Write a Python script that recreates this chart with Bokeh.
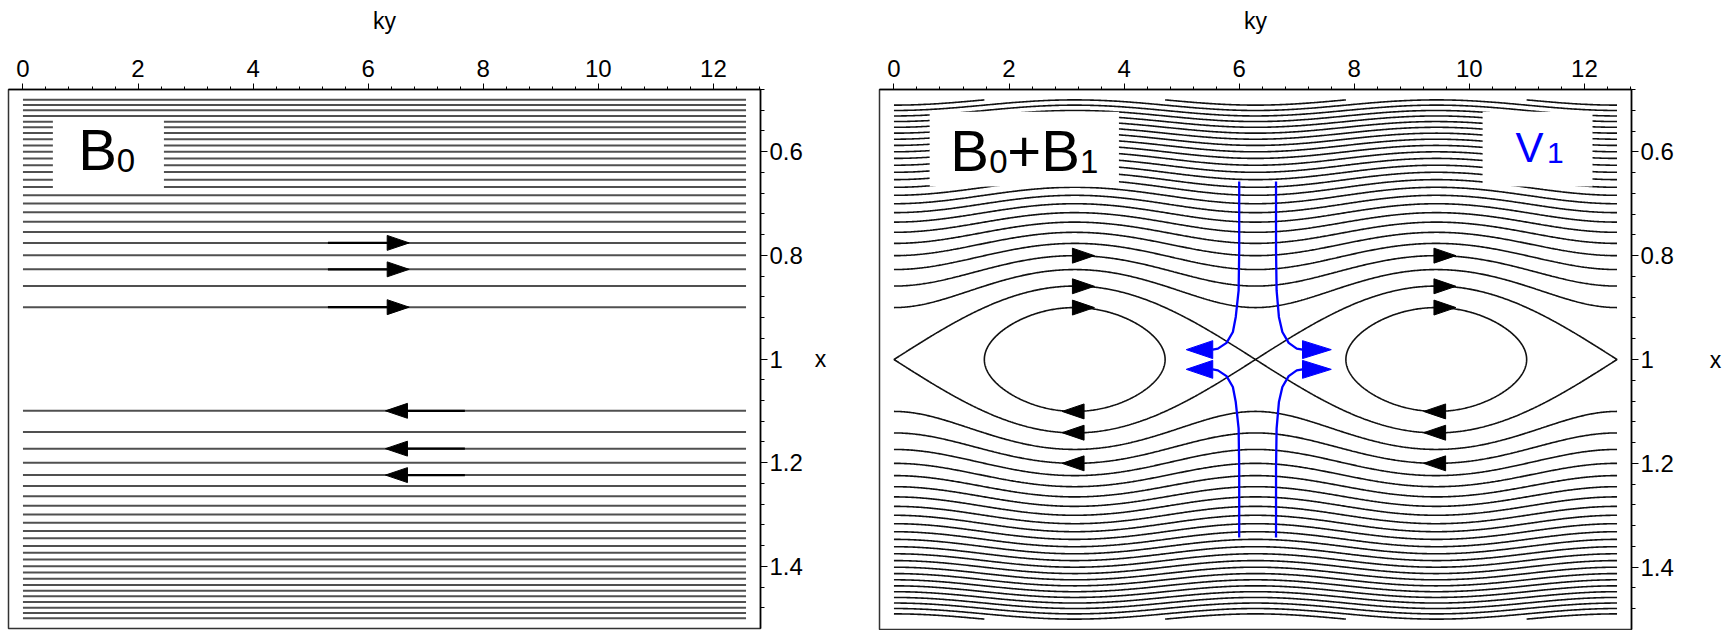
import numpy as np
from bokeh.plotting import figure
from bokeh.layouts import row
from bokeh.models import Range1d, FixedTicker, CustomJSTickFormatter
from bokeh.core.properties import value
from bokeh.embed import file_html
from bokeh.resources import INLINE

# ---------------------------------------------------------------- data
KY_MAX = 4 * np.pi            # two wavelengths in ky
X_MIN, X_MAX = 0.5, 1.5       # radial extent of the field-line domain

# unperturbed field lines B0 (x position of each line)
b0_upper = [0.900, 0.859, 0.827, 0.800, 0.776, 0.755, 0.735, 0.717, 0.700,
            0.684, 0.668, 0.654, 0.639, 0.626, 0.613, 0.600, 0.588, 0.576,
            0.564, 0.553, 0.542, 0.531, 0.520, 0.510, 0.500]
b0_lower = [1.100, 1.141, 1.173, 1.200, 1.224, 1.245, 1.265, 1.283, 1.300,
            1.316, 1.332, 1.346, 1.361, 1.374, 1.387, 1.400, 1.412, 1.424,
            1.436, 1.447, 1.458, 1.469, 1.480, 1.490, 1.500]

# arrows on the B0 lines
b0_right_arrow_x = [0.900, 0.827, 0.776]
b0_left_arrow_x = [1.100, 1.173, 1.224]

# perturbed flux psi = (x-1)^2 + island_amp*cos(ky), drawn at these levels
island_amp = 0.01
flux_levels = [0.00, 0.01, 0.02, 0.03, 0.04, 0.05, 0.06, 0.07, 0.08, 0.09,
               0.10, 0.11, 0.12, 0.13, 0.14, 0.15, 0.16, 0.17, 0.18, 0.19,
               0.20, 0.21, 0.22, 0.23, 0.24, 0.25]

# arrows on the B0+B1 lines (near the O-points)
o_points = [np.pi, 3 * np.pi]
b1_right_arrow_x = [0.900, 0.859, 0.800]
b1_left_arrow_x = [1.100, 1.141, 1.200]

# V1 flow lines near the X-point (upper branch; lower branch mirrored in x)
v1_x = [0.657, 0.790, 0.867, 0.918, 0.947, 0.968, 0.979, 0.981]
v1_ky_left = [6.00, 6.00, 5.99, 5.94, 5.89, 5.78, 5.63, 5.54]
v1_ky_right = [6.64, 6.64, 6.65, 6.69, 6.75, 6.86, 7.00, 7.10]
v1_tip_left = 5.08
v1_tip_right = 7.60

ky_ticks = [0, 2, 4, 6, 8, 10, 12]
x_ticks = [0.6, 0.8, 1.0, 1.2, 1.4]

# ---------------------------------------------------------------- style
FONT = "Liberation Sans"
BLUE = "#0000ff"
PAD_KY = 0.02 * KY_MAX
PAD_X = 0.02 * (X_MAX - X_MIN)
FRAME_W, FRAME_H = 752, 542


def make_panel(left, top, right, bottom, xlabel_standoff):
    p = figure(width=left + FRAME_W + right, height=top + FRAME_H + bottom,
               x_range=Range1d(-PAD_KY, KY_MAX + PAD_KY),
               y_range=Range1d(X_MAX + PAD_X, X_MIN - PAD_X),
               x_axis_location="above", y_axis_location="right",
               output_backend="svg", toolbar_location=None,
               min_border_left=left, min_border_right=right,
               min_border_top=top, min_border_bottom=bottom)
    p.grid.visible = False
    p.outline_line_color = "#333333"
    p.outline_line_width = 1.5
    p.background_fill_color = "white"
    p.border_fill_color = "white"

    for ax, label, ticks in ((p.xaxis[0], "ky", ky_ticks),
                             (p.yaxis[0], "x", x_ticks)):
        ax.ticker = FixedTicker(ticks=ticks,
                                minor_ticks=list(np.arange(-0.4, 13.0, 0.4))
                                if label == "ky" else
                                list(np.arange(0.48, 1.53, 0.04)))
        ax.formatter = CustomJSTickFormatter(
            code="return String(Math.round(tick*10)/10);")
        ax.axis_label = label
        ax.axis_label_text_font = FONT
        ax.axis_label_text_font_style = "normal"
        ax.axis_label_text_font_size = "23px"
        ax.axis_label_text_color = "black"
        ax.major_label_text_font = FONT
        ax.major_label_text_font_size = "24px"
        ax.major_label_text_color = "black"
        ax.axis_line_color = "black"
        ax.axis_line_width = 1.5
        ax.major_tick_line_color = "black"
        ax.minor_tick_line_color = "black"
        ax.major_tick_in = 0
        ax.minor_tick_in = 0
    p.xaxis.major_tick_out = 6
    p.xaxis.minor_tick_out = 3
    p.xaxis.major_label_standoff = 7
    p.xaxis.axis_label_standoff = 23
    p.yaxis.major_tick_out = 7
    p.yaxis.minor_tick_out = 4
    p.yaxis.major_label_standoff = 2
    p.yaxis.axis_label_standoff = xlabel_standoff
    p.yaxis.axis_label_orientation = "horizontal"
    return p


def px_to_ky(p, n):
    return n * (p.x_range.end - p.x_range.start) / FRAME_W


def px_to_x(p, n):
    return n * (p.y_range.start - p.y_range.end) / FRAME_H


def add_heads(p, tips, bases, xs, half_px, color):
    hx = px_to_x(p, half_px)
    p.patches(xs=[[t, b, b] for t, b in zip(tips, bases)],
              ys=[[x, x - hx, x + hx] for x in xs],
              fill_color=color, line_color=color, line_width=1)


def add_word(p, ky, baseline, texts, size, color):
    # the text is anchored on its vertical middle; lift it so the glyph
    # bottoms sit on the requested baseline
    y = baseline - px_to_x(p, 0.43 * size)
    p.text(x=ky, y=[y] * len(ky), text=texts, text_font=value(FONT),
           text_font_size=f"{size}px", text_baseline="alphabetic",
           text_align="left", text_color=color)


# ---------------------------------------------------------------- B0 panel
p1 = make_panel(left=8, top=86, right=100, bottom=2, xlabel_standoff=9)
b0_all = b0_upper + b0_lower
p1.segment(x0=[0.0] * len(b0_all), x1=[KY_MAX] * len(b0_all),
           y0=b0_all, y1=b0_all, line_color="#505050", line_width=2)

head_len = px_to_ky(p1, 22)
# right-pointing arrows (upper half)
p1.segment(x0=[5.30] * 3, x1=[6.33] * 3, y0=b0_right_arrow_x,
           y1=b0_right_arrow_x, line_color="black", line_width=2.4)
add_heads(p1, [6.33 + head_len] * 3, [6.33] * 3, b0_right_arrow_x, 7.5,
          "black")
# left-pointing arrows (lower half)
p1.segment(x0=[6.30 + head_len] * 3, x1=[7.68] * 3, y0=b0_left_arrow_x,
           y1=b0_left_arrow_x, line_color="black", line_width=2.4)
add_heads(p1, [6.30] * 3, [6.30 + head_len] * 3, b0_left_arrow_x, 7.5,
          "black")

p1.quad(left=[0.52], right=[2.45], top=[0.539], bottom=[0.676],
        fill_color="white", line_color=None)
add_word(p1, [0.96], 0.6445, ["B"], 58, "black")
add_word(p1, [1.63], 0.6445, ["0"], 33, "black")

# ---------------------------------------------------------------- B0+B1 panel
p2 = make_panel(left=19, top=89, right=105, bottom=0, xlabel_standoff=33)
ky_grid = np.linspace(0.0, KY_MAX, 600)
x_grid = np.linspace(X_MIN, X_MAX, 600)
KY, XX = np.meshgrid(ky_grid, x_grid)
psi = (XX - 1.0) ** 2 + island_amp * np.cos(KY)
p2.contour(ky_grid, x_grid, psi, flux_levels, line_color="#111111",
           line_width=1.6)

head_len2 = px_to_ky(p2, 22)
for o in o_points:
    add_heads(p2, [o - 0.04 + head_len2] * 3, [o - 0.04] * 3,
              b1_right_arrow_x, 7.5, "black")
    add_heads(p2, [o - 0.22] * 3, [o - 0.22 + head_len2] * 3,
              b1_left_arrow_x, 7.5, "black")

# V1 flow around the X-point
v1_low = [2.0 - v for v in v1_x]
p2.multi_line(xs=[v1_ky_left, v1_ky_right, v1_ky_left, v1_ky_right],
              ys=[v1_x, v1_x, v1_low, v1_low], line_color=BLUE,
              line_width=2.3)
add_heads(p2, [v1_tip_left, v1_tip_right, v1_tip_left, v1_tip_right],
          [v1_ky_left[-1], v1_ky_right[-1], v1_ky_left[-1], v1_ky_right[-1]],
          [v1_x[-1], v1_x[-1], v1_low[-1], v1_low[-1]], 9, BLUE)

p2.quad(left=[0.62, 10.23], right=[3.91, 12.14], top=[0.523, 0.523],
        bottom=[0.667, 0.667], fill_color="white", line_color=None)
add_word(p2, [0.98, 1.97], 0.6456, ["B", "+B"], 58, "black")
add_word(p2, [1.654, 3.234], 0.6456, ["0", "1"], 33, "black")
add_word(p2, [10.80], 0.6265, ["V"], 42, BLUE)
add_word(p2, [11.35], 0.6265, ["1"], 30, BLUE)

layout = row(p1, p2)
open("out.html", "w").write(file_html(layout, INLINE))
